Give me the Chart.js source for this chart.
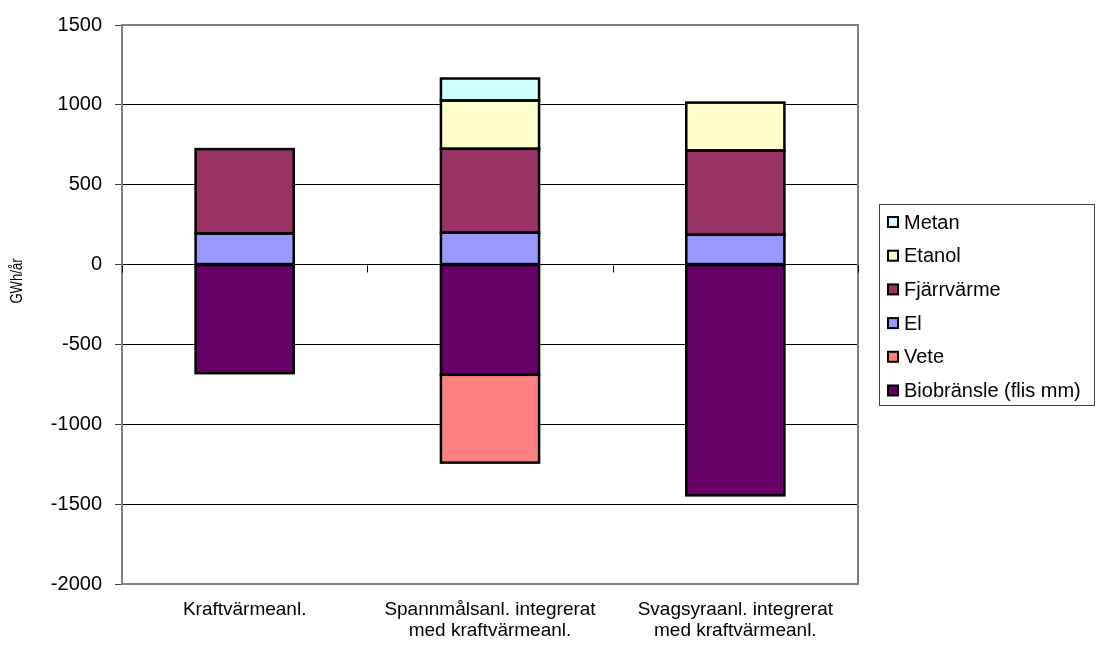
<!DOCTYPE html>
<html>
<head>
<meta charset="utf-8">
<script src="https://cdn.jsdelivr.net/npm/chart.js@4/dist/chart.umd.min.js"></script>
<style>
  html, body { margin: 0; padding: 0; background: #fff; }
  #wrap { width: 1096px; height: 651px; }
</style>
</head>
<body>
<div id="wrap"><canvas id="c" width="1096" height="651"></canvas></div>
<script>
// Energy balance per plant type, GWh/år
const categories = [
  "Kraftvärmeanl.",
  ["Spannmålsanl. integrerat", "med kraftvärmeanl."],
  ["Svagsyraanl. integrerat", "med kraftvärmeanl."]
];
const biobransle = [-680, -690, -1445];
const vete       = [null, -550, null];
const el         = [195, 200, 187];
const fjarrvarme = [528, 525, 527];
const etanol     = [null, 302, 300];
const metan      = [null, 138, null];

const yTicks = [-2000, -1500, -1000, -500, 0, 500, 1000, 1500];
const yTitle = "GWh/år";

const FONT = "'Liberation Sans', Arial, sans-serif";

// Stacking order bottom-up; legend lists them top-down.
const datasets = [
  { label: "Biobränsle (flis mm)", data: biobransle, backgroundColor: "#660066" },
  { label: "Vete",                 data: vete,       backgroundColor: "#FF8080" },
  { label: "El",                   data: el,         backgroundColor: "#9999FF" },
  { label: "Fjärrvärme",           data: fjarrvarme, backgroundColor: "#993366" },
  { label: "Etanol",               data: etanol,     backgroundColor: "#FFFFCC" },
  { label: "Metan",                data: metan,      backgroundColor: "#CCFFFF" }
].map(d => Object.assign(d, {
  borderWidth: 0,
  inflateAmount: 0,
  categoryPercentage: 1.0,
  barPercentage: 0.4
}));

// Plot frame, bar outlines, y-axis title, zero-line category ticks and the boxed legend.
const decorations = {
  id: "decorations",
  afterDatasetsDraw(chart) {
    const { ctx, chartArea: a, scales } = chart;
    const x = scales.x, y = scales.y;
    ctx.save();
    // frame
    ctx.strokeStyle = "#808080";
    ctx.lineWidth = 2;
    ctx.strokeRect(a.left, a.top, a.right - a.left, a.bottom - a.top);

    // black outlines around every stacked segment
    ctx.strokeStyle = "#000";
    ctx.lineWidth = 2.5;
    chart.data.datasets.forEach((ds, di) => {
      const meta = chart.getDatasetMeta(di);
      meta.data.forEach((bar, i) => {
        if (ds.data[i] == null) return;
        const p = bar.getProps(["x", "y", "base", "width"], true);
        const top = Math.min(p.y, p.base);
        const h = Math.abs(p.base - p.y);
        ctx.strokeRect(p.x - p.width / 2, top, p.width, h);
      });
    });

    // category separators on the zero line
    const y0 = Math.round(y.getPixelForValue(0)) + 0.5;
    ctx.lineWidth = 1;
    for (let i = 0; i <= categories.length; i++) {
      const px = Math.round(x.getPixelForValue(i - 0.5)) + 0.5;
      ctx.beginPath();
      ctx.moveTo(px, y0);
      ctx.lineTo(px, y0 + 7);
      ctx.stroke();
    }
    ctx.restore();
  },
  afterDraw(chart) {
    const { ctx } = chart;
    ctx.save();
    // y-axis title
    ctx.translate(18, 281);
    ctx.rotate(-Math.PI / 2);
    ctx.scale(0.82, 1);
    ctx.fillStyle = "#000";
    ctx.font = "16px " + FONT;
    ctx.textAlign = "center";
    ctx.textBaseline = "middle";
    ctx.fillText(yTitle, 0, 0);
    ctx.restore();

    // legend
    ctx.save();
    const lx = 879, ly = 204, lw = 216, lh = 202;
    ctx.fillStyle = "#fff";
    ctx.fillRect(lx, ly, lw, lh);
    ctx.strokeStyle = "#404040";
    ctx.lineWidth = 1;
    ctx.strokeRect(lx + 0.5, ly + 0.5, lw - 1, lh - 1);
    const items = chart.data.datasets.slice().reverse();
    ctx.font = "20px " + FONT;
    ctx.textBaseline = "middle";
    ctx.textAlign = "left";
    items.forEach((d, i) => {
      const cy = 222 + i * 33.7;
      ctx.fillStyle = d.backgroundColor;
      ctx.fillRect(888, cy - 5, 10, 10);
      ctx.strokeStyle = "#000";
      ctx.lineWidth = 2;
      ctx.strokeRect(888, cy - 5, 10, 10);
      ctx.fillStyle = "#000";
      ctx.fillText(d.label, 904, cy + 1);
    });
    ctx.restore();
  }
};

new Chart(document.getElementById("c"), {
  type: "bar",
  data: { labels: categories, datasets },
  plugins: [decorations],
  options: {
    responsive: false,
    devicePixelRatio: 1,
    animation: false,
    layout: { padding: { top: 25, right: 238, bottom: 0, left: 0 } },
    plugins: {
      legend: { display: false },
      tooltip: { enabled: false }
    },
    scales: {
      x: {
        stacked: true,
        afterFit(s) { s.height = 67; },
        grid: { display: false, drawTicks: false },
        border: { display: false },
        ticks: {
          color: "#000",
          padding: 15,
          maxRotation: 0,
          autoSkip: false,
          font: { family: FONT, size: 19, lineHeight: 1.1 }
        }
      },
      y: {
        stacked: true,
        min: -2000,
        max: 1500,
        afterFit(s) { s.width = 122; },
        afterBuildTicks(s) { s.ticks = yTicks.map(v => ({ value: v })); },
        grid: {
          color: "#000",
          lineWidth: 1,
          tickLength: 7,
          tickColor: "#404040"
        },
        border: { display: false },
        ticks: {
          color: "#000",
          padding: 13,
          font: { family: FONT, size: 20 },
          callback: v => String(v)
        }
      }
    }
  }
});
</script>
</body>
</html>
